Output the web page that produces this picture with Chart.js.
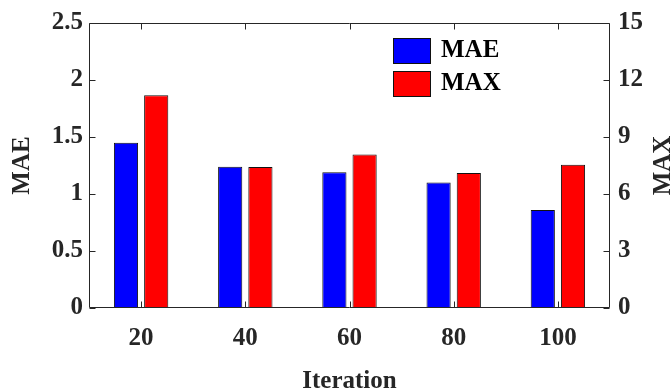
<!DOCTYPE html>
<html>
<head>
<meta charset="utf-8">
<script src="https://cdn.jsdelivr.net/npm/chart.js@4.4.1/dist/chart.umd.min.js"></script>
<style>
  html, body { margin: 0; padding: 0; background: #fff; overflow: hidden; }
  #wrap { width: 671px; height: 392px; position: relative; }
</style>
</head>
<body>
<div id="wrap"><canvas id="chart" width="671" height="392"></canvas></div>
<script>
// data
const iterations = ['20', '40', '60', '80', '100'];
const maeValues = [1.45, 1.24, 1.19, 1.10, 0.86];
const maxValues = [11.2, 7.42, 8.08, 7.11, 7.54];
const maeTicks = [0, 0.5, 1, 1.5, 2, 2.5];

const serif = "'Liberation Serif', 'Times New Roman', serif";
const ink = '#262626';

// box round the plot, inward ticks, legend and the right title
const framePlugin = {
  id: 'frame',
  afterDatasetsDraw(chart) {
    const { ctx, chartArea: a, scales } = chart;
    const L = Math.round(a.left) + 0.5, R = Math.round(a.right) - 0.5;
    const T = Math.round(a.top) + 0.5, B = Math.round(a.bottom) - 0.5;
    const len = 6;
    ctx.save();
    ctx.strokeStyle = ink;
    ctx.lineWidth = 1;
    ctx.beginPath();
    ctx.rect(L, T, R - L, B - T);
    maeTicks.forEach(v => {
      const y = Math.round(scales.y.getPixelForValue(v)) + 0.5;
      ctx.moveTo(L, y); ctx.lineTo(L + len, y);
      ctx.moveTo(R, y); ctx.lineTo(R - len, y);
    });
    iterations.forEach((_, i) => {
      const x = Math.round(scales.x.getPixelForTick(i)) + 0.5;
      ctx.moveTo(x, T); ctx.lineTo(x, T + len);
      ctx.moveTo(x, B); ctx.lineTo(x, B - len);
    });
    ctx.stroke();
    ctx.restore();
  },
  afterDraw(chart) {
    const { ctx } = chart;
    ctx.save();
    ctx.font = 'bold 25px ' + serif;
    ctx.fillStyle = '#000';
    ctx.textBaseline = 'middle';
    // legend
    chart.data.datasets.forEach((ds, i) => {
      const y = 38 + i * 33;
      ctx.fillStyle = ds.backgroundColor;
      ctx.fillRect(393, y, 37, 25);
      ctx.strokeStyle = '#111';
      ctx.lineWidth = 1;
      ctx.strokeRect(393.5, y + 0.5, 37, 25);
      ctx.fillStyle = '#000';
      ctx.textAlign = 'left';
      ctx.fillText(ds.label, 441, y + 13);
    });
    // right axis title, reading upward like the left one
    const a = chart.chartArea;
    ctx.translate(664, (a.top + a.bottom) / 2);
    ctx.rotate(-Math.PI / 2);
    ctx.textAlign = 'center';
    ctx.fillStyle = ink;
    ctx.fillText('MAX', 0, 0);
    ctx.restore();
  }
};

const tickFont = { family: serif, size: 25, weight: 'bold' };
const noGrid = { display: false, drawTicks: false };

new Chart(document.getElementById('chart'), {
  type: 'bar',
  data: {
    labels: iterations,
    datasets: [
      {
        label: 'MAE',
        data: maeValues,
        yAxisID: 'y',
        backgroundColor: '#0000ff',
        borderColor: '#111',
        borderWidth: 1,
        categoryPercentage: 0.58,
        barPercentage: 0.8
      },
      {
        label: 'MAX',
        data: maxValues,
        yAxisID: 'y1',
        backgroundColor: '#ff0000',
        borderColor: '#111',
        borderWidth: 1,
        categoryPercentage: 0.58,
        barPercentage: 0.8
      }
    ]
  },
  options: {
    responsive: false,
    animation: false,
    layout: { padding: { top: 17, left: 0, right: 0, bottom: 0 } },
    plugins: {
      legend: { display: false },
      tooltip: { enabled: false }
    },
    scales: {
      x: {
        position: 'bottom',
        grid: noGrid,
        border: { display: false },
        ticks: { color: ink, font: tickFont, padding: 16, maxRotation: 0 },
        title: { display: true, text: 'Iteration', color: ink, font: tickFont, padding: { top: 0, bottom: -5 } },
        afterFit(s) { s.height = 84; }
      },
      y: {
        position: 'left',
        min: 0, max: 2.5,
        grid: noGrid,
        border: { display: false },
        ticks: { stepSize: 0.5, color: ink, font: tickFont, padding: 6, callback: v => String(v) },
        title: { display: true, text: 'MAE', color: ink, font: tickFont, padding: { top: 8, bottom: 0 } },
        afterFit(s) { s.width = 89; }
      },
      y1: {
        position: 'right',
        min: 0, max: 15,
        grid: noGrid,
        border: { display: false },
        ticks: { stepSize: 3, color: ink, font: tickFont, padding: 8, callback: v => String(v) },
        afterFit(s) { s.width = 61; }
      }
    }
  },
  plugins: [framePlugin]
});
</script>
</body>
</html>
